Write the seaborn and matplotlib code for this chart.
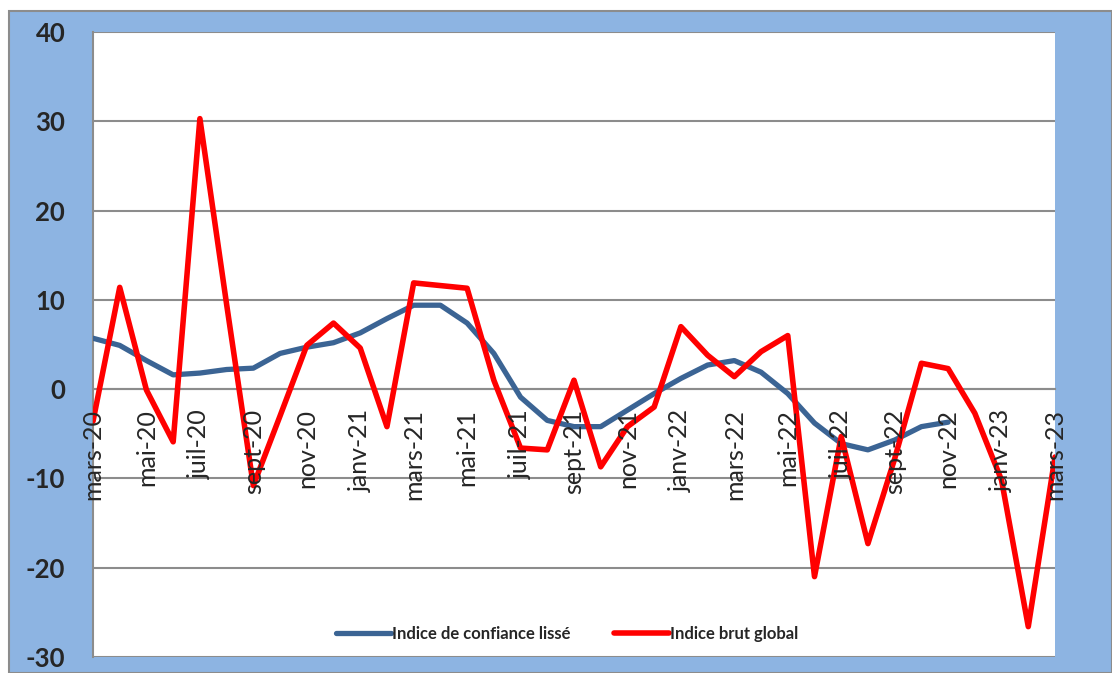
import numpy as np
import pandas as pd
import matplotlib.pyplot as plt
import seaborn as sns
from matplotlib.patches import Rectangle

# monthly labels, mars-20 .. mars-23
months = ['mars-20', 'avr-20', 'mai-20', 'juin-20', 'juil-20', 'août-20', 'sept-20', 'oct-20',
          'nov-20', 'déc-20', 'janv-21', 'févr-21', 'mars-21', 'avr-21', 'mai-21', 'juin-21',
          'juil-21', 'août-21', 'sept-21', 'oct-21', 'nov-21', 'déc-21', 'janv-22', 'févr-22',
          'mars-22', 'avr-22', 'mai-22', 'juin-22', 'juil-22', 'août-22', 'sept-22', 'oct-22',
          'nov-22', 'déc-22', 'janv-23', 'févr-23', 'mars-23']

# raw index (full period)
brut = [-3.6, 11.4, -0.1, -5.9, 30.3, 9.5, -10.8, -3.0,
        4.9, 7.4, 4.6, -4.2, 11.9, 11.6, 11.3, 1.0,
        -6.6, -6.8, 1.0, -8.7, -4.2, -2.0, 7.0, 3.8,
        1.4, 4.2, 6.0, -21.0, -5.3, -17.3, -7.8, 2.9,
        2.3, -2.7, -10.2, -26.6, -7.6]

# smoothed index (stops at nov-22)
lisse = [5.7, 4.9, 3.2, 1.6, 1.8, 2.2, 2.35, 4.0,
         4.7, 5.2, 6.3, 7.9, 9.4, 9.4, 7.4, 4.0,
         -0.9, -3.5, -4.2, -4.2, -2.35, -0.5, 1.2, 2.7,
         3.2, 1.9, -0.5, -3.8, -6.1, -6.8, -5.7, -4.2,
         -3.7]

df_brut = pd.DataFrame({'x': np.arange(len(brut)), 'v': brut})
df_lisse = pd.DataFrame({'x': np.arange(len(lisse)), 'v': lisse})

bg_blue = '#8DB4E2'
grid_grey = '#8C8C8C'

sns.set_style('white')
plt.rcParams['font.family'] = ['Lato', 'DejaVu Sans']
plt.rcParams['axes.unicode_minus'] = False

fig = plt.figure(figsize=(11.12, 6.73), dpi=100)
fig.patch.set_facecolor('white')
fig.patches.append(Rectangle((9 / 1112, 0), 1 - 9 / 1112, 1 - 11 / 673, transform=fig.transFigure,
                             facecolor=bg_blue, edgecolor=grid_grey, linewidth=1.5, zorder=-10))

ax = fig.add_axes([93 / 1112, 16 / 673, 962 / 1112, 625 / 673])
ax.set_facecolor('white')

sns.lineplot(data=df_lisse, x='x', y='v', ax=ax, color='#3B6494', linewidth=3.8,
             label='Indice de confiance lissé', zorder=3)
sns.lineplot(data=df_brut, x='x', y='v', ax=ax, color='#FF0000', linewidth=4,
             label='Indice brut global', zorder=4)

# x axis crosses at 0
ax.spines['bottom'].set_position(('data', 0))
ax.spines['bottom'].set_color(grid_grey)
ax.spines['bottom'].set_linewidth(1.5)
ax.spines['left'].set_color(grid_grey)
ax.spines['left'].set_linewidth(1.5)
ax.spines['top'].set_visible(False)
ax.spines['right'].set_visible(False)

ax.set_xlim(0, len(months) - 1)
ax.set_ylim(-30, 40)
ax.set_yticks(range(-30, 41, 10))
ax.yaxis.grid(True, color=grid_grey, linewidth=1.5)
ax.set_axisbelow(True)
# month labels sit on top of the lines, grid stays below
ax.xaxis.set_zorder(5)

ax.set_xticks(range(0, len(months), 2))
ax.set_xticklabels(months[::2], rotation=90, fontsize=18)
for lab in ax.get_yticklabels():
    lab.set_fontsize(18.5)
    lab.set_fontweight('bold')

ax.tick_params(axis='x', direction='out', length=6.5, width=1.5, color=grid_grey, pad=8)
ax.tick_params(axis='y', direction='out', length=6, width=1.5, color=grid_grey, pad=14)
ax.set_xlabel('')
ax.set_ylabel('')

leg = ax.legend(loc='lower center', bbox_to_anchor=(0.493, 0.0), ncol=2, frameon=False,
                prop={'size': 12, 'weight': 'bold'}, handlelength=3.3, columnspacing=2.6,
                handletextpad=0.05)
for t in leg.get_texts():
    t.set_color('#262626')

fig.savefig('out.png', dpi=100, facecolor=fig.get_facecolor())
